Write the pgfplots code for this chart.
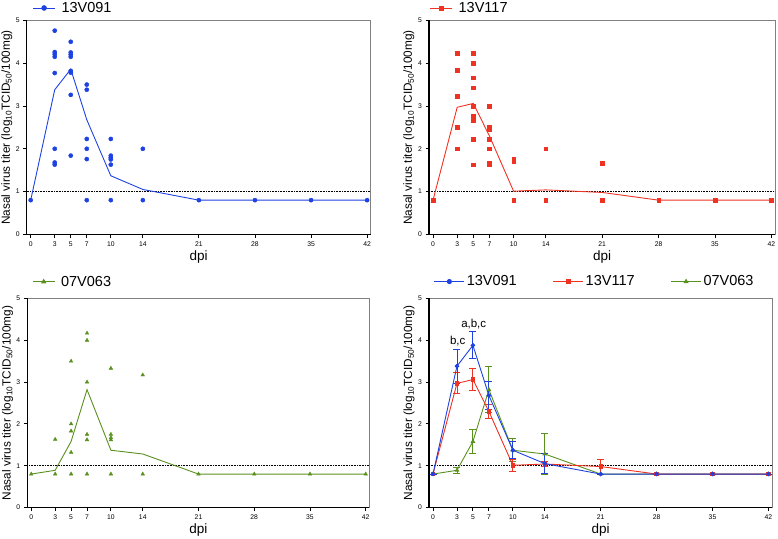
\documentclass[border=0pt]{standalone}
\usepackage{pgfplots}
\pgfplotsset{compat=1.18}
\usepackage{fontspec}
\setmainfont{Liberation Sans}
\definecolor{cblue}{RGB}{30,65,225}
\definecolor{cred}{RGB}{240,50,35}
\definecolor{cgreen}{RGB}{90,145,30}
\pgfplotsset{
  virpanel/.style={
    scale only axis,
    anchor=south west,
    xmin=-0.5, xmax=42.45, ymin=0, ymax=5,
    xtick={0,3,5,7,10,14,21,28,35,42},
    ytick={0,1,2,3,4,5},
    tick align=outside,
    tick pos=left,
    major tick length=3.5pt,
    tick style={black, line width=0.9pt},
    axis line style={black!50, line width=0.8pt},
    tick label style={font=\fontsize{6.8}{7}\selectfont},
    xlabel={dpi},
    xlabel style={at={(axis description cs:0.5,0)}, anchor=center, yshift=-23pt, font=\fontsize{13.5}{14}\selectfont},
    ylabel={Nasal virus titer (log\textsubscript{10}TCID\textsubscript{50}/100mg)},
    ylabel style={at={(axis description cs:-0.058,0.5)}, anchor=center, font=\fontsize{11.8}{12}\selectfont},
    legend style={draw=none, fill=none, anchor=west, font=\fontsize{14.5}{15}\selectfont},
    legend image code/.code={\draw[mark repeat=2,mark phase=2,##1] plot coordinates {(0pt,0pt) (11pt,0pt) (22pt,0pt)}; \path (26pt,0pt);},
    extra description/.code={\draw[black, line width=1.4pt] (rel axis cs:0,1) -- (rel axis cs:0,0) -- (rel axis cs:1,0);},
  },
  meanline/.style={line width=0.9pt, forget plot},
  limitline/.style={black, densely dotted, line width=0.6pt, forget plot},
}
\begin{document}
\begin{tikzpicture}
\useasboundingbox (0,0) rectangle (778pt,538pt);
% ---------- Panel 1: 13V091 ----------
\begin{axis}[virpanel, at={(26.7pt,303.6pt)}, width=344pt, height=214pt,
  /pgf/number format/assume math mode=true,
  legend style={at={(axis description cs:0.008,1.058)}}]
\addlegendimage{cblue, line width=0.9pt, mark=*, mark size=2.3pt}
\addlegendentry{13V091}
\addplot[limitline] coordinates {(-0.5,1) (42.45,1)};
\addplot[cblue, meanline] coordinates {(0,0.8) (3,3.38) (5,3.86) (7,2.68) (10,1.37) (14,1.05) (21,0.8) (28,0.8) (35,0.8) (42,0.8)};
\addplot[cblue, only marks, mark=*, mark size=2.1pt, forget plot] coordinates {
(0,0.8)
(3,4.76) (3,4.26) (3,4.21) (3,4.15) (3,3.77) (3,2.0) (3,1.68) (3,1.63)
(5,4.5) (5,4.25) (5,4.2) (5,4.15) (5,3.82) (5,3.78) (5,3.26) (5,1.84)
(7,3.5) (7,3.38) (7,2.23) (7,2.0) (7,1.76) (7,0.8)
(10,2.23) (10,1.84) (10,1.79) (10,1.75) (10,1.63) (10,0.8)
(14,2.0) (14,0.8)
(21,0.8) (28,0.8) (35,0.8) (42,0.8)};
\end{axis}
% ---------- Panel 2: 13V117 ----------
\begin{axis}[virpanel, at={(429pt,303.6pt)}, width=346pt, height=214pt,
  /pgf/number format/assume math mode=true,
  legend style={at={(axis description cs:-0.007,1.058)}}]
\addlegendimage{cred, line width=0.9pt, mark=square*, mark size=2pt}
\addlegendentry{13V117}
\addplot[limitline] coordinates {(-0.5,1) (42.45,1)};
\addplot[cred, meanline] coordinates {(0,0.8) (3,2.97) (5,3.06) (7,2.3) (10,1.01) (14,1.04) (21,0.98) (28,0.8) (35,0.8) (42,0.8)};
\addplot[cred, only marks, mark=square*, mark size=1.85pt, forget plot] coordinates {
(0,0.8)
(3,4.23) (3,3.83) (3,3.23) (3,2.5) (3,2.0)
(5,4.23) (5,4.0) (5,3.66) (5,3.43) (5,3.0) (5,2.77) (5,2.66) (5,2.23) (5,1.63)
(7,3.0) (7,2.51) (7,2.45) (7,2.23) (7,2.0) (7,1.67) (7,1.63)
(10,1.76) (10,1.7) (10,0.8)
(14,2.0) (14,0.8)
(21,1.67) (21,0.8)
(28,0.8) (35,0.8) (42,0.8)};
\end{axis}
% ---------- Panel 3: 07V063 ----------
\begin{axis}[virpanel, at={(27.3pt,30.5pt)}, width=342pt, height=209pt,
  /pgf/number format/assume math mode=true,
  legend style={at={(axis description cs:0.005,1.08)}}]
\addlegendimage{cgreen, line width=0.9pt, mark=triangle*, mark size=2.3pt}
\addlegendentry{07V063}
\addplot[limitline] coordinates {(-0.5,1) (42.45,1)};
\addplot[cgreen, meanline] coordinates {(0,0.8) (3,0.89) (5,1.58) (7,2.82) (10,1.37) (14,1.28) (21,0.8) (28,0.8) (35,0.8) (42,0.8)};
\addplot[cgreen, only marks, mark=triangle*, mark size=2.1pt, forget plot] coordinates {
(0,0.8)
(3,1.63) (3,0.8)
(5,3.5) (5,2.0) (5,1.83) (5,1.32) (5,0.8)
(7,4.17) (7,4.0) (7,3.0) (7,1.75) (7,1.62) (7,0.8)
(10,3.33) (10,1.75) (10,1.67) (10,1.62) (10,0.8)
(14,3.17) (14,0.8)
(21,0.8) (28,0.8) (35,0.8) (42,0.8)};
\end{axis}
% ---------- Panel 4: means +- SEM ----------
\begin{axis}[virpanel, at={(429pt,30.5pt)}, width=343pt, height=209pt,
  /pgf/number format/assume math mode=true,
  legend columns=3,
  legend image code/.code={\draw[mark repeat=2,mark phase=2,#1] plot coordinates {(0pt,0pt) (15pt,0pt) (30pt,0pt)};},
  legend style={at={(axis description cs:0.005,1.081)}, /tikz/every even column/.append style={column sep=34pt}}]
\addlegendimage{cblue, line width=0.9pt, mark=*, mark size=2.1pt}
\addlegendentry{13V091}
\addlegendimage{cred, line width=0.9pt, mark=square*, mark size=1.9pt}
\addlegendentry{13V117}
\addlegendimage{cgreen, line width=0.9pt, mark=triangle*, mark size=2.1pt}
\addlegendentry{07V063}
\addplot[limitline] coordinates {(-0.5,1) (42.45,1)};
\addplot[cgreen, line width=0.9pt, mark=triangle*, mark size=1.9pt, forget plot,
  error bars/.cd, y dir=both, y explicit, error bar style={line width=0.9pt},
  error mark options={rotate=90, mark size=3.5pt, line width=0.9pt}]
  coordinates {(0,0.8) +- (0,0) (3,0.89) +- (0,0.08) (5,1.58) +- (0,0.29) (7,2.82) +- (0,0.55)
  (10,1.37) +- (0,0.28) (14,1.28) +- (0,0.48) (21,0.8) +- (0,0) (28,0.8) +- (0,0) (35,0.8) +- (0,0) (42,0.8) +- (0,0)};
\addplot[cred, line width=0.9pt, mark=square*, mark size=1.7pt, forget plot,
  error bars/.cd, y dir=both, y explicit, error bar style={line width=0.9pt},
  error mark options={rotate=90, mark size=3.5pt, line width=0.9pt}]
  coordinates {(0,0.8) +- (0,0) (3,2.97) +- (0,0.25) (5,3.06) +- (0,0.27) (7,2.3) +- (0,0.16)
  (10,1.01) +- (0,0.14) (14,1.04) +- (0,0.05) (21,0.98) +- (0,0.18) (28,0.8) +- (0,0) (35,0.8) +- (0,0) (42,0.8) +- (0,0)};
\addplot[cblue, line width=0.9pt, mark=*, mark size=1.8pt, forget plot,
  error bars/.cd, y dir=both, y explicit, error bar style={line width=0.9pt},
  error mark options={rotate=90, mark size=3.5pt, line width=0.9pt}]
  coordinates {(0,0.8) +- (0,0) (3,3.38) +- (0,0.41) (5,3.88) +- (0,0.32) (7,2.68) +- (0,0.33)
  (10,1.37) +- (0,0.2) (14,1.05) +- (0,0.24) (21,0.8) +- (0,0) (28,0.8) +- (0,0) (35,0.8) +- (0,0) (42,0.8) +- (0,0)};
\node[font=\fontsize{11.5}{12}\selectfont] at (axis cs:3.1,3.97) {b,c};
\node[font=\fontsize{11.5}{12}\selectfont] at (axis cs:5.1,4.4) {a,b,c};
\end{axis}
\end{tikzpicture}
\end{document}
